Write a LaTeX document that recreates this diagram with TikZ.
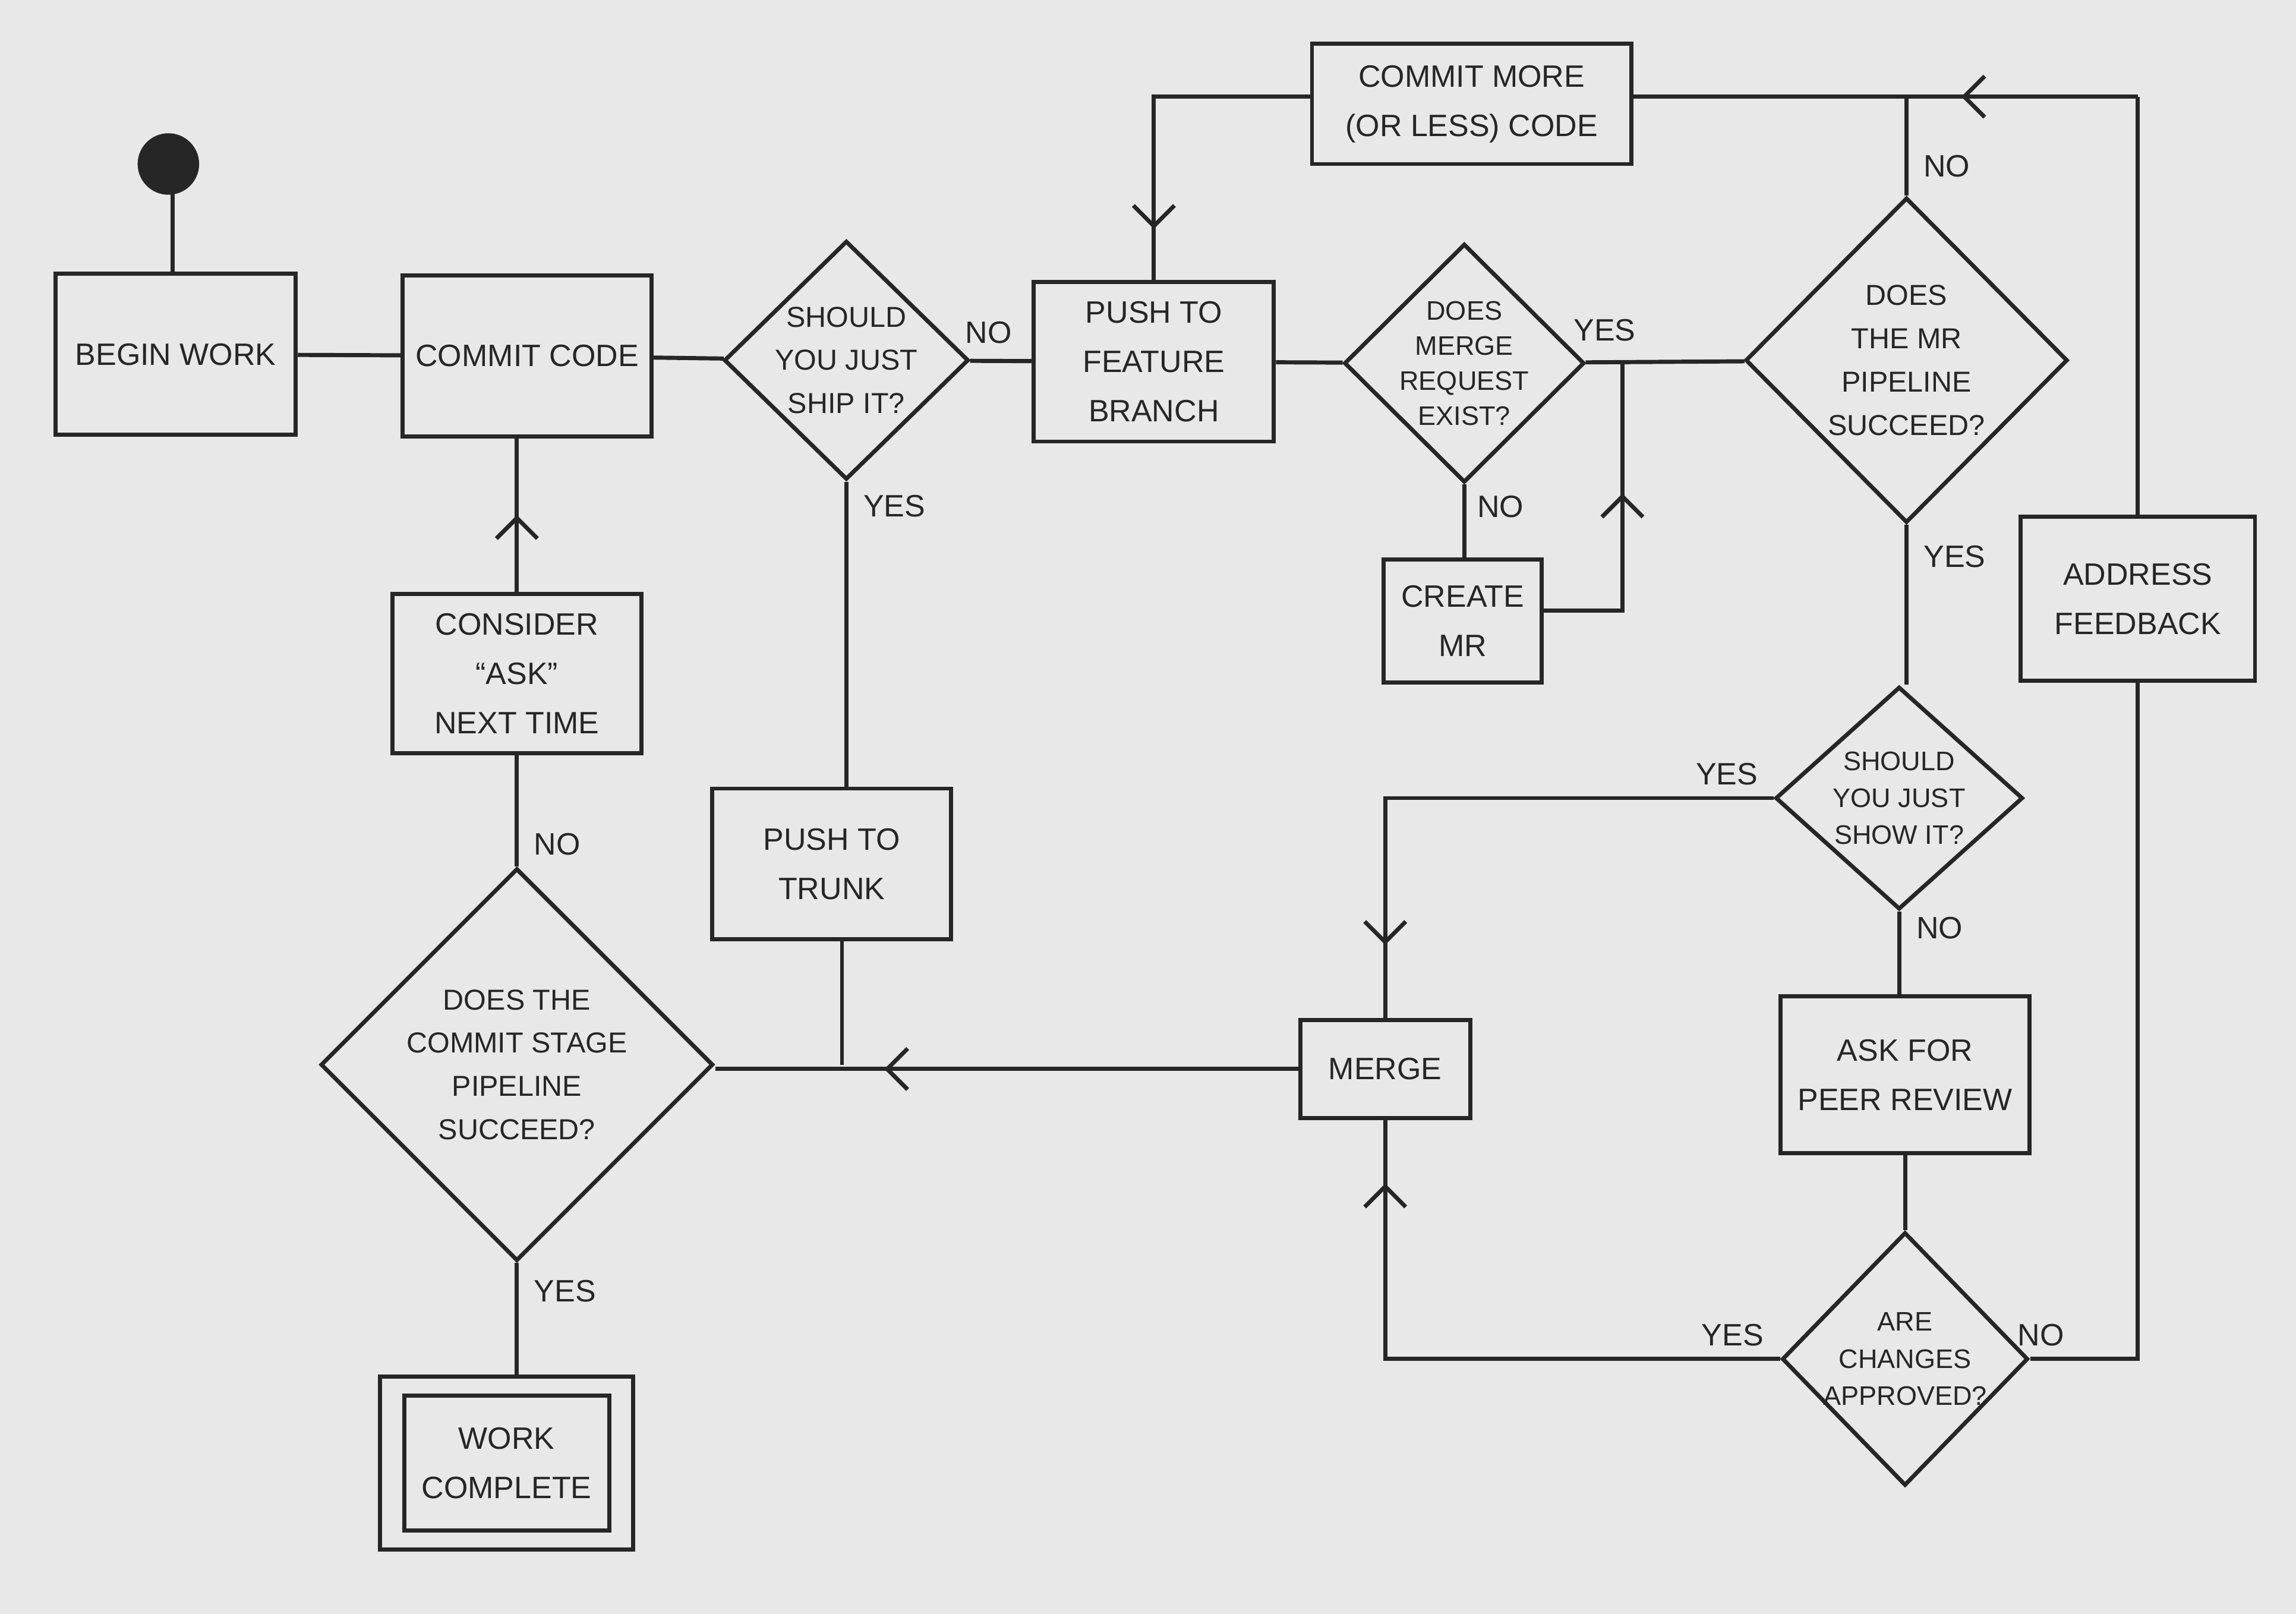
\documentclass[tikz,border=0pt]{standalone}
\usepackage{fontspec}
\setmainfont{Liberation Sans}
\usetikzlibrary{shapes.geometric,arrows.meta,decorations.markings}
\begin{document}
\begin{tikzpicture}[x=0.025cm,y=-0.025cm,
  every node/.style={font=\fontsize{15}{24}\selectfont, text=black!85},
  ln/.style={line width=2pt, draw=black!85},
  box/.style={ln, rectangle, inner sep=0pt, align=center},
  dia/.style={ln, diamond, inner sep=0pt},
  dt/.style={align=center, font=\fontsize{14}{21}\selectfont},
  lab/.style={font=\fontsize{15}{18}\selectfont},
  mid/.style={postaction={decorate},decoration={markings,mark=at position #1 with {\arrow[line width=2pt]{Straight Barb[length=3.5mm,width=7mm]}}}},
  mid/.default=0.5]
\fill[gray!18] (0,0) rectangle (1568,1102);
\useasboundingbox (0,0) rectangle (1568,1102);
\fill[black!85] (115,112) circle[radius=21];
\coordinate (dot) at (118,132);
\node[box, minimum width=164*0.025cm, minimum height=110*0.025cm] (begin) at (120,242) {BEGIN WORK};
\node[box, minimum width=170*0.025cm, minimum height=110*0.025cm] (commit) at (360,243) {COMMIT CODE};
\node[dia, minimum width=167*0.025cm, minimum height=163*0.025cm] (ship) at (578,246) {};
\node[dt] at (ship) {SHOULD\\YOU JUST\\SHIP IT?};
\node[box, minimum width=164*0.025cm, minimum height=109*0.025cm] (feat) at (788,247) {PUSH TO\\FEATURE\\BRANCH};
\node[dia, minimum width=164*0.025cm, minimum height=163*0.025cm] (mrex) at (1000,248) {};
\node[dt, font=\fontsize{13}{17}\selectfont] at (mrex) {DOES\\MERGE\\REQUEST\\EXIST?};
\node[dia, minimum width=220*0.025cm, minimum height=222*0.025cm] (mrpipe) at (1302,246) {};
\node[dt] at (mrpipe) {DOES\\THE MR\\PIPELINE\\SUCCEED?};
\node[box, minimum width=218*0.025cm, minimum height=82*0.025cm] (more) at (1005,71) {COMMIT MORE\\(OR LESS) CODE};
\node[box, minimum width=108*0.025cm, minimum height=84*0.025cm] (create) at (999,424) {CREATE\\MR};
\node[box, minimum width=160*0.025cm, minimum height=112*0.025cm] (addr) at (1460,409) {ADDRESS\\FEEDBACK};
\node[dia, minimum width=169*0.025cm, minimum height=152*0.025cm] (show) at (1297,545) {};
\node[dt, font=\fontsize{13}{18}\selectfont] at (show) {SHOULD\\YOU JUST\\SHOW IT?};
\node[box, minimum width=170*0.025cm, minimum height=107*0.025cm] (ask) at (1301,734) {ASK FOR\\PEER REVIEW};
\node[dia, minimum width=168*0.025cm, minimum height=173*0.025cm] (appr) at (1301,928) {};
\node[dt, font=\fontsize{13}{18}\selectfont] at (appr) {ARE\\CHANGES\\APPROVED?};
\node[box, minimum width=116*0.025cm, minimum height=67*0.025cm] (merge) at (946,730) {MERGE};
\node[box, minimum width=170*0.025cm, minimum height=109*0.025cm] (cons) at (353,460) {CONSIDER\\``ASK''\\NEXT TIME};
\node[box, minimum width=163*0.025cm, minimum height=103*0.025cm] (trunk) at (568,590) {PUSH TO\\TRUNK};
\node[dia, minimum width=268*0.025cm, minimum height=268*0.025cm] (csp) at (353,727) {};
\node[dt] at (csp) {DOES THE\\COMMIT STAGE\\PIPELINE\\SUCCEED?};
\node[box, minimum width=173*0.025cm, minimum height=118*0.025cm] (done) at (346,999) {};
\node[box, minimum width=140*0.025cm, minimum height=92*0.025cm] (donein) at (346,999) {WORK\\COMPLETE};
\coordinate (j1) at (575,727);
\coordinate (j2) at (1108,248);
\coordinate (j3) at (1302,66);
\coordinate (j4) at (1460,66);
\draw[ln] (dot) -- (begin.north -| dot);
\draw[ln] (begin) -- (commit);
\draw[ln] (commit) -- (ship);
\draw[ln] (ship) -- (feat) node[lab,pos=0.3,above=4pt]{NO};
\draw[ln] (ship.south) -- (trunk.north -| ship.south) node[lab,pos=0.08,right=4pt]{YES};
\draw[ln] (trunk.south -| j1) -- (j1);
\draw[ln,mid=0.71] (merge.west) -- (csp.east |- merge.west);
\draw[ln] (feat) -- (mrex);
\draw[ln] (mrex) -- (mrpipe) node[lab,pos=0.12,above=6pt]{YES};
\draw[ln] (mrex.south) -- (create.north -| mrex.south) node[lab,pos=0.3,right=2pt]{NO};
\draw[ln,mid=0.6] (create.east |- 417,417) -| (j2);
\draw[ln] (mrpipe.north) -- (j3) node[lab,pos=0.3,right=4pt]{NO};
\draw[ln] (addr.north) -- (j4);
\draw[ln,mid=0.35] (j4) -- (more.east |- j4);
\draw[ln,mid=0.85] (more.west |- 66,66) -| (feat.north);
\draw[ln] (mrpipe.south) -- (show.north -| mrpipe.south) node[lab,pos=0.2,right=4pt]{YES};
\draw[ln,mid=0.88] (show.west) -| (merge.north) node[lab,pos=0.06,above=2pt]{YES};
\draw[ln] (show.south) -- (ask.north -| show.south) node[lab,pos=0.2,right=4pt]{NO};
\draw[ln] (ask.south) -- (appr.north);
\draw[ln,mid=0.9] (appr.west) -| (merge.south) node[lab,pos=0.06,above=2pt]{YES};
\draw[ln] (appr.east) -| (addr.south -| j4) node[lab,pos=0.05,above=2pt]{NO};
\draw[ln] (csp.south) -- (done.north -| csp.south) node[lab,pos=0.25,right=4pt]{YES};
\draw[ln] (csp.north) -- (cons.south -| csp.north) node[lab,pos=0.2,right=4pt]{NO};
\draw[ln,mid=0.5] (cons.north -| csp.north) -- (commit.south -| csp.north);
\end{tikzpicture}
\end{document}
